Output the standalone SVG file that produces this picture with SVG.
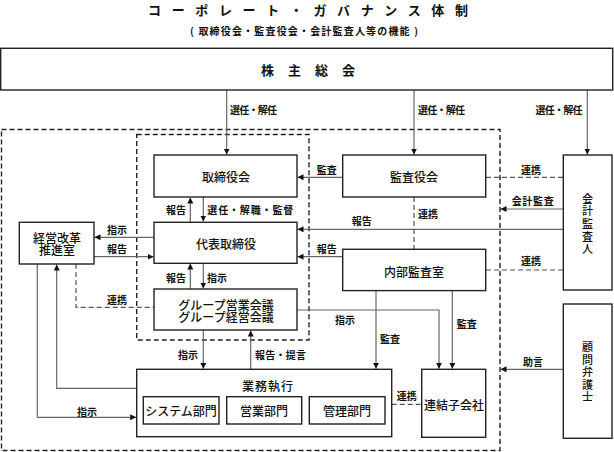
<svg xmlns="http://www.w3.org/2000/svg" width="614" height="452" viewBox="0 0 614 452">
<style>
text{font-family:"Noto Sans CJK JP","Noto Sans CJK SC",sans-serif;fill:#111;dominant-baseline:central}
.box{fill:#fff;stroke:#222;stroke-width:1.4}
.nt{font-size:12px;text-anchor:middle;font-weight:500}
.vt{font-size:11px;font-weight:500;writing-mode:vertical-rl}
.lb{font-size:10px;font-weight:bold}
.ln{fill:none;stroke:#666;stroke-width:1.2}
.dl{fill:none;stroke:#555;stroke-width:1.2;stroke-dasharray:5 3}
.frame{fill:none;stroke:#222;stroke-width:1.4;stroke-dasharray:5 3}
</style>
<defs>
<marker id="ah" markerUnits="userSpaceOnUse" markerWidth="7" markerHeight="7" refX="6" refY="3" orient="auto"><path d="M0,0 L6,3 L0,6 z" fill="#111"/></marker>
</defs>
<rect width="614" height="452" fill="#fff"/>
<text x="148" y="9" font-size="13" font-weight="bold" textLength="320" lengthAdjust="spacing">コーポレート・ガバナンス体制</text>
<text x="190" y="30" font-size="10" font-weight="bold" textLength="228" lengthAdjust="spacing">( 取締役会・監査役会・会計監査人等の機能 )</text>

<g id="frames">
<rect class="frame" x="1.5" y="129.5" width="498.5" height="321"/>
<rect class="frame" x="136.7" y="134.5" width="172.3" height="205.5"/>
</g>

<g id="connectors">
<path class="ln" d="M226.7,90 V154.5" marker-end="url(#ah)"/>
<path class="ln" d="M414,90 V154.5" marker-end="url(#ah)"/>
<path class="ln" d="M587.3,90 V154.5" marker-end="url(#ah)"/>
<path class="ln" d="M342.7,177.3 H297.5" marker-end="url(#ah)"/>
<path class="dl" d="M486,177.3 H563"/>
<path class="ln" d="M563,209 H500.5" marker-end="url(#ah)"/>
<path class="ln" d="M563,229.3 H297.5" marker-end="url(#ah)"/>
<path class="dl" d="M414,197 V249"/>
<path class="ln" d="M342.7,256.7 H297.5" marker-end="url(#ah)"/>
<path class="dl" d="M486,270 H563"/>
<path class="ln" d="M190.3,222 V197.5" marker-end="url(#ah)"/>
<path class="ln" d="M203.3,197 V221.5" marker-end="url(#ah)"/>
<path class="ln" d="M154,237.3 H94.5" marker-end="url(#ah)"/>
<path class="ln" d="M94,256.7 H153.5" marker-end="url(#ah)"/>
<path class="ln" d="M190.3,289 V263.5" marker-end="url(#ah)"/>
<path class="ln" d="M203.3,263 V288.5" marker-end="url(#ah)"/>
<path class="dl" d="M76,264 V307.3 H154"/>
<path class="ln" d="M37.3,264 V417.3 H136.2" marker-end="url(#ah)"/>
<path class="ln" d="M136.7,388.3 H56.7 V264.5" marker-end="url(#ah)"/>
<path class="ln" d="M203.3,330 V368.8" marker-end="url(#ah)"/>
<path class="ln" d="M250.7,369.3 V330.5" marker-end="url(#ah)"/>
<path class="ln" d="M297,310 H439 V368.8" marker-end="url(#ah)"/>
<path class="ln" d="M376,290.5 V368.8" marker-end="url(#ah)"/>
<path class="ln" d="M452.3,290.5 V368.8" marker-end="url(#ah)"/>
<path class="dl" d="M391.7,404.3 H421.7"/>
<path class="ln" d="M563.3,369.3 H500.5" marker-end="url(#ah)"/>
</g>

<g id="labels" class="lb">
<text x="230" y="109" textLength="47" lengthAdjust="spacing">選任・解任</text>
<text x="418" y="109" textLength="47" lengthAdjust="spacing">選任・解任</text>
<text x="535.5" y="109" textLength="47" lengthAdjust="spacing">選任・解任</text>
<text x="316.7" y="169">監査</text>
<text x="166" y="209.7">報告</text>
<text x="207.3" y="209.7" textLength="86" lengthAdjust="spacing">選任・解職・監督</text>
<text x="107" y="229">指示</text>
<text x="107" y="248">報告</text>
<text x="351.7" y="220.7">報告</text>
<text x="316.7" y="248">報告</text>
<text x="418" y="213">連携</text>
<text x="521" y="169">連携</text>
<text x="511.7" y="200" textLength="42" lengthAdjust="spacing">会計監査</text>
<text x="521" y="260">連携</text>
<text x="166" y="277">報告</text>
<text x="207" y="277">指示</text>
<text x="107" y="299">連携</text>
<text x="335" y="319">指示</text>
<text x="456.7" y="323">監査</text>
<text x="380" y="338">監査</text>
<text x="178" y="354">指示</text>
<text x="255" y="354" textLength="51" lengthAdjust="spacing">報告・提言</text>
<text x="523" y="361.7">助言</text>
<text x="77" y="411.7">指示</text>
<text x="396.7" y="395">連携</text>
</g>

<g id="shareholders">
<rect class="box" x="0.7" y="48.3" width="612" height="41.7"/>
<text x="261" y="69.5" font-size="13" font-weight="bold" textLength="94" lengthAdjust="spacing">株主総会</text>
</g>
<g id="board">
<rect class="box" x="154" y="155" width="143" height="42"/>
<text class="nt" x="226" y="176">取締役会</text>
</g>
<g id="auditboard">
<rect class="box" x="342.7" y="155" width="143" height="42"/>
<text class="nt" x="414" y="176">監査役会</text>
</g>
<g id="accountant">
<rect class="box" x="563.3" y="155" width="48.7" height="135"/>
<text class="vt" x="587.5" y="193" letter-spacing="1.7">会計監査人</text>
</g>
<g id="representative">
<rect class="box" x="154" y="222.3" width="143" height="41"/>
<text class="nt" x="226" y="243">代表取締役</text>
</g>
<g id="reform">
<rect class="box" x="19.3" y="222.3" width="74.7" height="41.7"/>
<text class="nt" x="57" y="237.3" font-size="11">経営改革</text>
<text class="nt" x="57" y="249.3" font-size="11">推進室</text>
</g>
<g id="internalaudit">
<rect class="box" x="342.7" y="249.3" width="143" height="41.3"/>
<text class="nt" x="414" y="271">内部監査室</text>
</g>
<g id="group">
<rect class="box" x="154" y="289" width="143" height="41"/>
<text class="nt" x="226" y="304" font-size="11.6">グループ営業会議</text>
<text class="nt" x="226" y="316.7" font-size="11.6">グループ経営会議</text>
</g>
<g id="operations">
<rect class="box" x="136.7" y="369.3" width="255" height="67.4"/>
<text class="nt" x="268" y="385" letter-spacing="1">業務執行</text>
<rect class="box" x="143.3" y="396.7" width="75.7" height="27.3"/>
<text class="nt" x="181" y="410.5">システム部門</text>
<rect class="box" x="226.7" y="396.7" width="75" height="27.3"/>
<text class="nt" x="264" y="410.5">営業部門</text>
<rect class="box" x="309.3" y="396.7" width="75.7" height="27.3"/>
<text class="nt" x="347" y="410.5">管理部門</text>
</g>
<g id="subsidiaries">
<rect class="box" x="421.7" y="369.3" width="64" height="68"/>
<text class="nt" x="454" y="404">連結子会社</text>
</g>
<g id="lawyer">
<rect class="box" x="563.3" y="304" width="48.7" height="134.3"/>
<text class="vt" x="587.5" y="341.7" letter-spacing="1.5">顧問弁護士</text>
</g>
</svg>
